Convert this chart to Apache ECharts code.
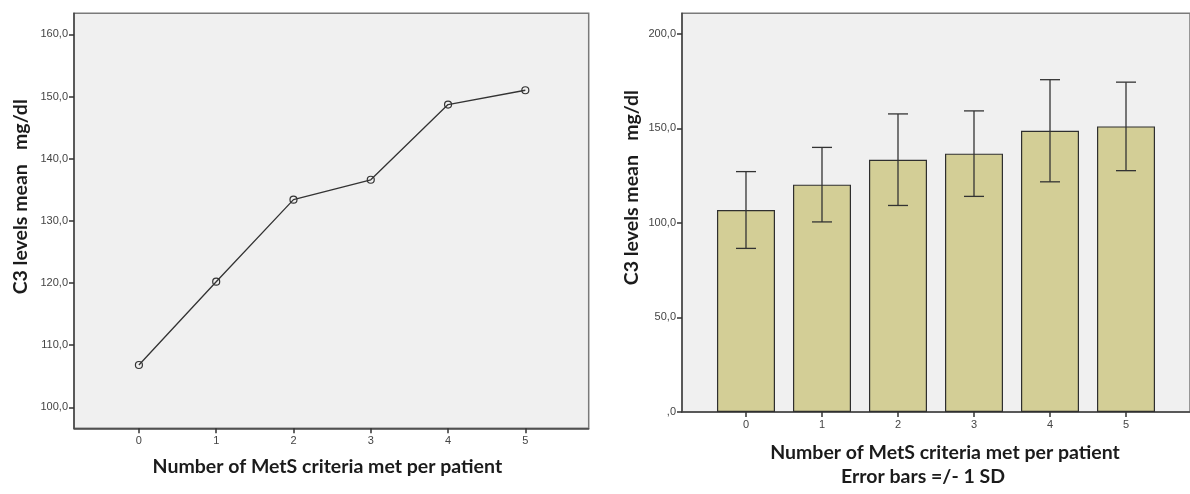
<!DOCTYPE html>
<html>
<head>
<meta charset="utf-8">
<script src="https://cdn.jsdelivr.net/npm/echarts@6/dist/echarts.min.js"></script>
<style>
  html, body { margin: 0; padding: 0; background: #ffffff; }
  #chart { width: 1190px; height: 494px; }
</style>
</head>
<body>
<div id="chart"></div>
<script>
// Number of metabolic-syndrome criteria met per patient
const categories = ['0', '1', '2', '3', '4', '5'];
// Mean C3 level (mg/dl) per group
const c3Mean = [106.8, 120.2, 133.4, 136.6, 148.7, 151.0];
// Standard deviation per group
const c3Sd = [20.3, 19.7, 24.2, 22.6, 27.0, 23.4];
// Value-axis tick labels
const lineTicks = [100, 110, 120, 130, 140, 150, 160];
const barTicks = [0, 50, 100, 150, 200];

const xTitle = 'Number of MetS criteria met per patient';
const xSubTitle = 'Error bars =/- 1 SD';
const yTitle = 'C3 levels mean   mg/dl';

const catIdx = categories.map((c, i) => i);
const lineData = catIdx.map(i => [i, c3Mean[i]]);
const barData = catIdx.map(i => [i, c3Mean[i]]);
const errData = catIdx.map(i => [i, c3Mean[i] - c3Sd[i], c3Mean[i] + c3Sd[i]]);

const commaDecimal = v => {
  const s = Number(v).toFixed(1).replace('.', ',');
  return s.startsWith('0,') ? s.slice(1) : s;
};

const tickFont = { fontFamily: 'Liberation Sans, Arial, sans-serif', fontSize: 11, color: '#444' };
const titleFont = { fontFamily: 'Lato, Carlito, sans-serif', fontWeight: 'bold', fontSize: 19.5, color: '#1b1b1b' };
const axisLine = { show: true, onZero: false, lineStyle: { color: '#444', width: 1.5 } };
const axisTick = { show: true, length: 5, lineStyle: { color: '#333', width: 1.5 } };

const chart = echarts.init(document.getElementById('chart'), null, { renderer: 'canvas' });

chart.setOption({
  animation: false,
  backgroundColor: '#ffffff',
  grid: [
    { left: 74, top: 13.3, width: 514.7, height: 415, show: true,
      backgroundColor: '#f0f0f0', borderColor: '#7a7a7a', borderWidth: 1.5 },
    { left: 682, top: 13.3, width: 517.3, height: 409.2, show: true,
      backgroundColor: '#f0f0f0', borderColor: '#7a7a7a', borderWidth: 1.5 }
  ],
  xAxis: [
    {
      gridIndex: 0, type: 'value', min: -0.84, max: 5.82,
      axisLine, splitLine: { show: false },
      axisTick: Object.assign({ customValues: catIdx }, axisTick),
      axisLabel: Object.assign({ customValues: catIdx, margin: 7,
        formatter: v => categories[Math.round(v)] }, tickFont),
      name: xTitle, nameLocation: 'middle', nameGap: 28,
      nameTextStyle: Object.assign({ padding: [0, 8, 0, 0] }, titleFont)
    },
    {
      gridIndex: 1, type: 'value', min: -0.842, max: 5.842,
      axisLine, splitLine: { show: false },
      axisTick: Object.assign({ customValues: catIdx }, axisTick),
      axisLabel: Object.assign({ customValues: catIdx, margin: 7,
        formatter: v => categories[Math.round(v)] }, tickFont),
      name: '{a|' + xTitle + '}\n{b|' + xSubTitle + '}',
      nameLocation: 'middle', nameGap: 29,
      nameTextStyle: Object.assign({}, titleFont, {
        lineHeight: 24,
        rich: {
          a: Object.assign({ lineHeight: 24, padding: [0, 0, 0, 18] }, titleFont),
          b: Object.assign({ lineHeight: 24, padding: [0, 26, 0, 0] }, titleFont)
        }
      })
    }
  ],
  yAxis: [
    {
      gridIndex: 0, type: 'value', min: 96.62, max: 163.38,
      axisLine, splitLine: { show: false },
      axisTick: Object.assign({ customValues: lineTicks }, axisTick),
      axisLabel: Object.assign({ customValues: lineTicks, margin: 6,
        formatter: commaDecimal }, tickFont),
      name: yTitle, nameLocation: 'middle', nameRotate: 90, nameGap: 43,
      nameTextStyle: Object.assign({ padding: [0, 0, 0, 48] }, titleFont)
    },
    {
      gridIndex: 1, type: 'value', min: 0, max: 210.8,
      axisLine, splitLine: { show: false },
      axisTick: Object.assign({ customValues: barTicks }, axisTick),
      axisLabel: Object.assign({ customValues: barTicks, margin: 6,
        formatter: commaDecimal }, tickFont),
      name: yTitle, nameLocation: 'middle', nameRotate: 90, nameGap: 40,
      nameTextStyle: Object.assign({ padding: [0, 0, 0, 50] }, titleFont)
    }
  ],
  series: [
    {
      type: 'line', xAxisIndex: 0, yAxisIndex: 0, data: lineData,
      symbol: 'circle', symbolSize: 7,
      lineStyle: { color: '#333', width: 1.3 },
      itemStyle: { color: 'rgba(0,0,0,0)', borderColor: '#333', borderWidth: 1.2 }
    },
    {
      type: 'bar', xAxisIndex: 1, yAxisIndex: 1, data: barData, barWidth: 58,
      itemStyle: { color: '#d3ce96', borderColor: '#2f2f2f', borderWidth: 1.2 }
    },
    {
      type: 'custom', xAxisIndex: 1, yAxisIndex: 1, data: errData, z: 5,
      renderItem: (params, api) => {
        const x = api.value(0);
        const lo = api.coord([x, api.value(1)]);
        const hi = api.coord([x, api.value(2)]);
        const half = 10;
        const style = { stroke: '#333', lineWidth: 1.3, fill: null };
        return {
          type: 'group',
          children: [
            { type: 'line', shape: { x1: hi[0], y1: hi[1], x2: lo[0], y2: lo[1] }, style },
            { type: 'line', shape: { x1: hi[0] - half, y1: hi[1], x2: hi[0] + half, y2: hi[1] }, style },
            { type: 'line', shape: { x1: lo[0] - half, y1: lo[1], x2: lo[0] + half, y2: lo[1] }, style }
          ]
        };
      }
    }
  ]
});
</script>
</body>
</html>
